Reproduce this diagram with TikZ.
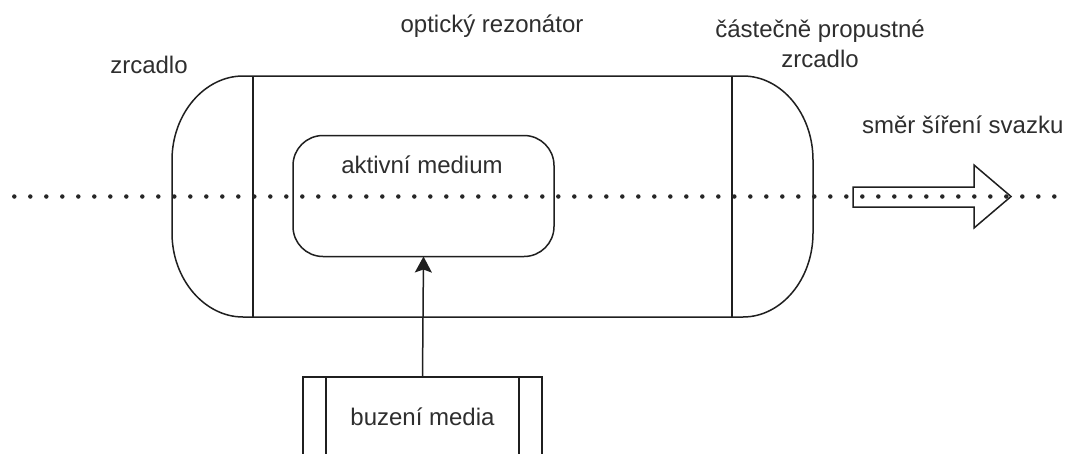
\documentclass[tikz,border=0pt]{standalone}
\usepackage{fontspec}
\setmainfont{Liberation Sans}
\usetikzlibrary{arrows.meta}
\begin{document}
\begin{tikzpicture}[x=1pt,y=-1pt,
  every node/.style={inner sep=0pt, outer sep=0pt},
  lbl/.style={font=\fontsize{24}{30}\selectfont, text=black!82},
  shp/.style={draw=black!88, line width=1.5pt},
  rbox/.style={shp, rounded corners=30pt, minimum width=261pt, minimum height=121pt},
  procbox/.style={shp, minimum width=239pt, minimum height=80pt},
  dots/.style={draw=black!85, line width=4.5pt, line cap=round, dash pattern=on 0pt off 16pt},
  conn/.style={shp, -{Stealth[length=16pt,width=17pt,inset=3pt]}}
]
\clip (0,0) rectangle (1070,453);
\fill[white] (0,0) rectangle (1070,453);

% optical resonator with mirrors
\draw[shp] (243,76) -- (743,76)
  .. controls (781.5,76) and (813,113.8) .. (813,160) -- (813,233)
  .. controls (813,279.2) and (781.5,317) .. (743,317) -- (243,317)
  .. controls (204.5,317) and (172,279.2) .. (172,233) -- (172,160)
  .. controls (172,113.8) and (204.5,76) .. (243,76) -- cycle;
\draw[shp] (253,76) -- (253,317);
\draw[shp] (732,76) -- (732,317);

% active medium
\node[rbox] (am) at (423.5,196) {};
\node[lbl, anchor=base] (amt) at (422,173) {aktivní medium};

% pumping
\node[procbox, lbl] (bz) at (422.5,417) {buzení media};
\draw[shp] ([xshift=23pt]bz.north west) -- ([xshift=23pt]bz.south west);
\draw[shp] ([xshift=-23pt]bz.north east) -- ([xshift=-23pt]bz.south east);
\draw[conn] (bz.north) -- (am.south);

% beam direction arrow
\draw[shp] (853,187) -- (974,187) -- (974,165) -- (1011,196.5) -- (974,228) -- (974,207) -- (853,207) -- cycle;

% labels
\node[lbl, anchor=base] (lz) at (149,73) {zrcadlo};
\node[lbl, anchor=base] (lor) at (492,32) {optický rezonátor};
\node[lbl, anchor=base, align=center] (lcp) at (820,67) {částečně propustné\\zrcadlo};
\node[lbl, anchor=base west] (lsm) at (862,133) {směr šíření svazku};

% optical axis
\coordinate (axl) at (14.3,196.5);
\coordinate (axr) at (1070,196.5);
\draw[dots] (axl) -- (axr);
\end{tikzpicture}
\end{document}
